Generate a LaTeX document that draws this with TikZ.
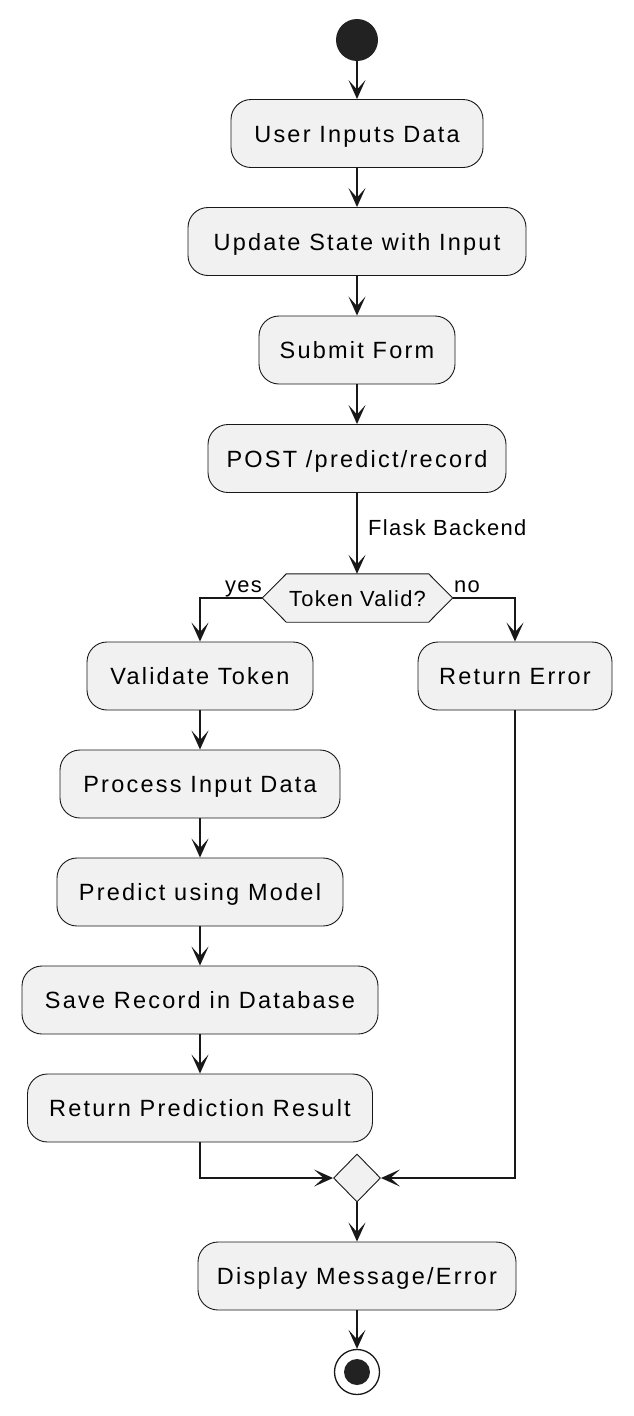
\documentclass[tikz,border=0pt]{standalone}
\usepackage{fontspec}
\setmainfont{Liberation Sans}[LetterSpace=9.5]
\newfontfamily\smallf{Liberation Sans}[LetterSpace=6]
\usetikzlibrary{arrows.meta,shapes.geometric}
\definecolor{boxfill}{HTML}{F1F1F1}
\definecolor{ink}{HTML}{181818}
\definecolor{dot}{HTML}{222222}
\pgfdeclarelayer{bg}
\pgfsetlayers{bg,main}
\begin{document}
\begin{tikzpicture}[x=1pt,y=-1pt,
  act/.style={draw=ink, line width=0.9pt, fill=boxfill, rounded corners=20pt,
    minimum height=68pt, inner sep=0pt, text=black, text height=17pt, text depth=0pt,
    font=\fontsize{23.5}{27}\selectfont},
  flow/.style={draw=ink, line width=1.5pt, -{Stealth[length=19pt,width=17pt,inset=9.5pt]}},
  lbl/.style={inner sep=0pt, text=black, font=\smallf\fontsize{21.9}{25}\selectfont}]
\useasboundingbox (0,0) rectangle (634,1416);

\node[circle, fill=dot, minimum size=42pt, inner sep=0pt] (start) at (357,40) {};
\node[act, minimum width=252pt] (a1) at (357,133.5) {User Inputs Data};
\node[act, minimum width=338pt] (a2) at (357,241.5) {Update State with Input};
\node[act, minimum width=196pt] (a3) at (357,350) {Submit Form};
\node[act, minimum width=298pt] (a4) at (357,458.5) {POST /predict/record};

\node[lbl, minimum width=190pt, minimum height=48pt, text height=16pt, text depth=0pt] (tv) at (357.5,598) {Token Valid?};
\begin{pgfonlayer}{bg}
\draw[draw=ink, line width=0.9pt, fill=boxfill]
  (tv.west) -- ([xshift=24pt]tv.north west) -- ([xshift=-24pt]tv.north east)
  -- (tv.east) -- ([xshift=-24pt]tv.south east) -- ([xshift=24pt]tv.south west) -- cycle;
\end{pgfonlayer}

\node[act, minimum width=226pt] (b1) at (200,676) {Validate Token};
\node[act, minimum width=194pt] (rerr) at (515,676) {Return Error};
\node[act, minimum width=280pt] (b2) at (200,784) {Process Input Data};
\node[act, minimum width=286pt] (b3) at (200,892) {Predict using Model};
\node[act, minimum width=356pt] (b4) at (200,1000) {Save Record in Database};
\node[act, minimum width=345pt] (b5) at (200,1108) {Return Prediction Result};

\node[diamond, draw=ink, line width=0.9pt, fill=boxfill, inner sep=0pt,
  minimum width=47pt, minimum height=48pt] (m) at (357,1178) {};
\node[act, minimum width=318pt] (disp) at (357,1276) {Display Message/Error};
\node[circle, draw=ink, line width=1.3pt, fill=white, minimum size=45pt, inner sep=0pt] (end) at (357,1372) {};
\fill[dot] (end.center) circle (13pt);

\draw[flow] (start) -- (a1);
\draw[flow] (a1) -- (a2);
\draw[flow] (a2) -- (a3);
\draw[flow] (a3) -- (a4);
\draw[flow] (a4) -- (tv.north -| a4.south);
\node[lbl, anchor=base west] (fb) at (368,535.7) {Flask Backend};

\draw[flow] (tv.west) -| (b1.north);
\node[lbl, anchor=base east] (yes) at (262,592.7) {yes};
\draw[flow] (tv.east) -| (rerr.north);
\node[lbl, anchor=base west] (no) at (454,592.7) {no};

\draw[flow] (b1) -- (b2);
\draw[flow] (b2) -- (b3);
\draw[flow] (b3) -- (b4);
\draw[flow] (b4) -- (b5);
\draw[flow] (b5.south) |- (m.west);
\draw[flow] (rerr.south) |- (m.east);
\draw[flow] (m) -- (disp);
\draw[flow] (disp) -- (end);
\end{tikzpicture}
\end{document}
